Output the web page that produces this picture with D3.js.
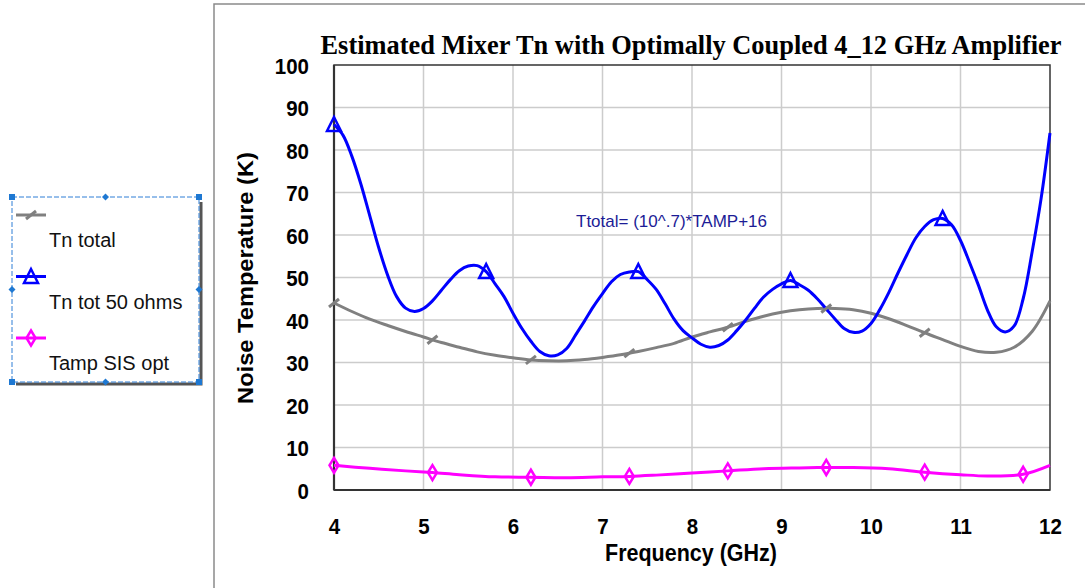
<!DOCTYPE html>
<html><head><meta charset="utf-8">
<script src="https://cdn.jsdelivr.net/npm/d3@7"></script>
<style>
html,body{margin:0;padding:0;background:#fff;}
svg{display:block;}
</style></head>
<body>
<svg id="c" width="1085" height="588"></svg>
<script>
// ---- data ----
const xTicks = [4,5,6,7,8,9,10,11,12];
const yTicks = [0,10,20,30,40,50,60,70,80,90,100];
const seriesNames = ["Tn total","Tn tot 50 ohms","Tamp SIS opt"];

const tnTotalFreq = [4.0,4.2,4.4,4.6,4.8,5.0,5.2,5.4,5.6,5.8,6.0,6.2,6.4,6.6,6.8,7.0,7.2,7.4,7.6,7.8,8.0,8.2,8.4,8.6,8.8,9.0,9.2,9.4,9.6,9.8,10.0,10.2,10.4,10.6,10.8,11.0,11.2,11.4,11.6,11.8,12.0];
const tnTotal =     [44.0,42.0,40.2,38.7,37.3,36.0,34.7,33.6,32.5,31.7,31.1,30.6,30.4,30.4,30.7,31.2,31.8,32.6,33.5,34.5,36.0,37.2,38.3,39.7,40.9,41.8,42.4,42.7,42.7,42.4,41.6,40.3,38.7,37.0,35.4,33.8,32.6,32.4,33.6,37.3,44.5];
const tnTotalMarkers = [4,5.1,6.2,7.3,8.4,9.5,10.6];

const tn50Freq = [4.0,4.1,4.2,4.3,4.4,4.5,4.6,4.7,4.8,4.9,5.0,5.1,5.2,5.3,5.4,5.5,5.6,5.7,5.8,5.9,6.0,6.1,6.2,6.3,6.4,6.5,6.6,6.7,6.8,6.9,7.0,7.1,7.2,7.3,7.4,7.5,7.6,7.7,7.8,7.9,8.0,8.1,8.2,8.3,8.4,8.5,8.6,8.7,8.8,8.9,9.0,9.1,9.2,9.3,9.4,9.5,9.6,9.7,9.8,9.9,10.0,10.1,10.2,10.3,10.4,10.5,10.6,10.7,10.8,10.9,11.0,11.1,11.2,11.3,11.4,11.5,11.6,11.7,11.8,11.9,12.0];
const tn50 =     [86.0,83.5,78.5,72.0,64.5,57.0,50.5,45.5,42.8,42.0,42.7,44.5,47.0,49.5,51.6,52.7,52.8,51.4,48.5,45.5,41.6,38.0,35.0,32.6,31.6,31.8,33.3,36.5,39.8,43.2,46.2,49.0,50.7,51.3,51.4,49.5,47.2,43.8,40.2,37.5,35.8,34.3,33.6,34.0,35.3,37.5,40.0,42.8,45.4,47.2,48.5,49.3,48.3,47.0,45.0,42.6,40.2,38.0,37.1,37.4,39.2,42.5,46.5,51.0,55.3,59.3,62.0,63.6,63.9,62.4,58.7,53.6,48.2,42.4,38.4,37.2,38.6,45.0,56.0,68.5,84.0];
const tn50Markers = [4,5.7,7.4,9.1,10.8];

const tampFreq = [4.0,4.4,4.8,5.1,5.4,5.8,6.2,6.6,7.0,7.3,7.6,8.0,8.4,8.8,9.2,9.5,9.8,10.2,10.6,11.0,11.3,11.7,12.0];
const tamp =     [5.8,5.1,4.5,4.1,3.6,3.1,3.0,2.9,3.1,3.2,3.5,4.0,4.5,5.0,5.2,5.3,5.3,5.0,4.2,3.6,3.3,3.7,5.8];
const tampMarkers = [4,5.1,6.2,7.3,8.4,9.5,10.6,11.7];

const chartTitle = "Estimated Mixer Tn with Optimally Coupled 4_12 GHz Amplifier";
const xTitle = "Frequency (GHz)";
const yTitle = "Noise Temperature (K)";
const annotation = "Ttotal= (10^.7)*TAMP+16";

// ---- drawing ----
const SANS = "'Liberation Sans', Arial, sans-serif";
const SERIF = "'Liberation Serif', 'Times New Roman', serif";
const svg = d3.select("#c");
const x = d3.scaleLinear().domain([4,12]).range([334,1050]);
const y = d3.scaleLinear().domain([0,100]).range([490,65]);

// chart area border (top and left)
svg.append("path").attr("d","M214,588 L214,4 L1085,4").attr("fill","none").attr("stroke","#8a8a8a").attr("stroke-width",1.5);

// grid
const g = svg.append("g");
g.selectAll(".vg").data(xTicks.slice(1,-1)).enter().append("line")
  .attr("x1",d=>x(d)).attr("x2",d=>x(d)).attr("y1",y(100)).attr("y2",y(0))
  .attr("stroke","#cccccc").attr("stroke-width",1.5);
g.selectAll(".hg").data(yTicks.slice(1,-1)).enter().append("line")
  .attr("x1",x(4)).attr("x2",x(12)).attr("y1",d=>y(d)).attr("y2",d=>y(d))
  .attr("stroke","#cccccc").attr("stroke-width",1.5);

// plot border
svg.append("rect").attr("x",x(4)).attr("y",y(100)).attr("width",x(12)-x(4)).attr("height",y(0)-y(100))
  .attr("fill","none").attr("stroke","#333").attr("stroke-width",1.5);
svg.append("line").attr("x1",x(4)).attr("x2",x(4)).attr("y1",y(100)).attr("y2",y(0)).attr("stroke","#333").attr("stroke-width",2.2);
svg.append("line").attr("x1",x(4)).attr("x2",x(12)).attr("y1",y(0)).attr("y2",y(0)).attr("stroke","#333").attr("stroke-width",2.2);

// axes
const VS = 1.1; // vertical stretch of the original's text
const xAxis = svg.append("g").attr("transform",`translate(0,${y(0)})`)
  .call(d3.axisBottom(x).tickValues(xTicks).tickFormat(d3.format("d")).tickSize(0));
const yAxis = svg.append("g").attr("transform",`translate(${x(4)},0)`)
  .call(d3.axisLeft(y).tickValues(yTicks).tickFormat(d3.format("d")).tickSize(0));
[xAxis,yAxis].forEach(a=>{
  a.select(".domain").remove();
  a.selectAll("text").style("font-family",SANS).attr("font-size",20.5).attr("font-weight","bold").attr("fill","#000")
    .attr("x",0).attr("y",0).attr("dy",null);
});
xAxis.selectAll("text").attr("text-anchor","middle").attr("transform",`translate(0,44) scale(1,${VS})`);
yAxis.selectAll("text").attr("text-anchor","end").attr("transform",`translate(-25,8) scale(1,${VS})`);

// titles
svg.append("text").attr("transform","translate(691,54) scale(1,1.15)").attr("text-anchor","middle")
  .style("font-family",SERIF).attr("font-weight","bold").attr("font-size",24)
  .attr("textLength",741).attr("lengthAdjust","spacingAndGlyphs").text(chartTitle);
svg.append("text").attr("transform",`translate(691,561) scale(1,${VS})`).attr("text-anchor","middle")
  .style("font-family",SANS).attr("font-size",21.5).attr("font-weight","bold").text(xTitle);
svg.append("text").attr("transform",`translate(253,278) rotate(-90) scale(${VS},1)`).attr("text-anchor","middle")
  .style("font-family",SANS).attr("font-size",21.5).attr("font-weight","bold").text(yTitle);
svg.append("text").attr("x",576).attr("y",227).style("font-family",SANS).attr("font-size",17).attr("fill","#1c1c96").text(annotation);

// lines
const line = d3.line().x(d=>x(d[0])).y(d=>y(d[1])).curve(d3.curveCatmullRom.alpha(0.5));
const zip = (a,b)=>a.map((v,i)=>[v,b[i]]);
const interp = (fa,va,f)=>{ const i=Math.max(1,d3.bisectLeft(fa,f)); const t=(f-fa[i-1])/(fa[i]-fa[i-1]); return va[i-1]+(va[i]-va[i-1])*Math.min(1,Math.max(0,t)); };

const series = [
  {name:seriesNames[0], f:tnTotalFreq, v:tnTotal, m:tnTotalMarkers, color:"#808080", mk:"dash"},
  {name:seriesNames[1], f:tn50Freq, v:tn50, m:tn50Markers, color:"#0000ff", mk:"tri"},
  {name:seriesNames[2], f:tampFreq, v:tamp, m:tampMarkers, color:"#ff00ff", mk:"dia"}
];

function drawMarker(sel, type, color){
  if(type==="dash"){
    sel.append("line").attr("x1",-5).attr("y1",4).attr("x2",5).attr("y2",-4).attr("stroke",color).attr("stroke-width",3);
  } else if(type==="tri"){
    sel.append("path").attr("d","M0,-7.5 L7,6.5 L-7,6.5 Z").attr("fill","none").attr("stroke",color).attr("stroke-width",2.5);
  } else {
    sel.append("path").attr("d","M0,-7.5 L4.5,0 L0,7.5 L-4.5,0 Z").attr("fill","none").attr("stroke",color).attr("stroke-width",2.5);
  }
}

series.forEach(s=>{
  svg.append("path").datum(zip(s.f,s.v)).attr("d",line).attr("fill","none")
    .attr("stroke",s.color).attr("stroke-width",3).attr("stroke-linejoin","round");
});
series.forEach(s=>{
  s.m.forEach(f=>{
    const mg = svg.append("g").attr("transform",`translate(${x(f)},${y(interp(s.f,s.v,f))})`);
    drawMarker(mg,s.mk,s.color);
  });
});

// legend
const L = {x:12,y:197,w:187,h:185};
svg.append("path").attr("d",`M${L.x+L.w+2},${L.y+5} L${L.x+L.w+2},${L.y+L.h+2} L${L.x+4},${L.y+L.h+2}`)
  .attr("fill","none").attr("stroke","#555").attr("stroke-width",3);
svg.append("rect").attr("x",L.x).attr("y",L.y).attr("width",L.w).attr("height",L.h)
  .attr("fill","#fff").attr("stroke","#2f7fd6").attr("stroke-width",1).attr("stroke-dasharray","5,2");
const leg = svg.append("g");
series.forEach((s,i)=>{
  const ly = 215 + i*61.5;
  leg.append("line").attr("x1",16).attr("x2",46).attr("y1",ly).attr("y2",ly).attr("stroke",s.color).attr("stroke-width",3);
  drawMarker(leg.append("g").attr("transform",`translate(31,${ly})`), s.mk, s.color);
  leg.append("text").attr("x",49).attr("y",ly+32).style("font-family",SANS).attr("font-size",20).attr("fill","#111").text(s.name);
});
// selection handles
const hc = "#1e78d2";
[[L.x,L.y],[L.x+L.w,L.y],[L.x,L.y+L.h],[L.x+L.w,L.y+L.h]].forEach(p=>{
  svg.append("rect").attr("x",p[0]-3).attr("y",p[1]-3).attr("width",6).attr("height",6).attr("fill",hc);
});
[[L.x+L.w/2,L.y],[L.x+L.w/2,L.y+L.h],[L.x,L.y+L.h/2],[L.x+L.w,L.y+L.h/2]].forEach(p=>{
  svg.append("path").attr("d",`M${p[0]},${p[1]-3.5} L${p[0]+3.5},${p[1]} L${p[0]},${p[1]+3.5} L${p[0]-3.5},${p[1]} Z`).attr("fill",hc);
});
</script>
</body></html>
